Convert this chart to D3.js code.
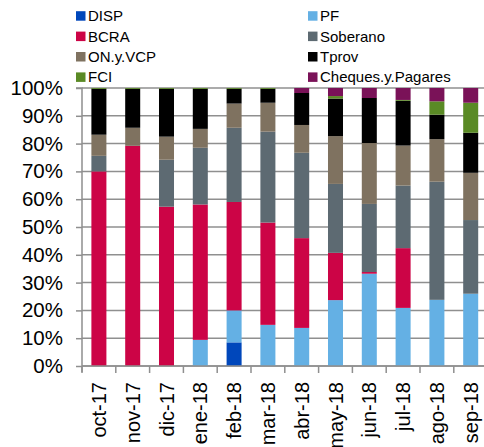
<!DOCTYPE html>
<html><head><meta charset="utf-8">
<script src="https://cdn.jsdelivr.net/npm/d3@7"></script>
<style>
html,body{margin:0;padding:0;background:#fff;}
svg{display:block;font-family:"Liberation Sans",Arial,sans-serif;}
</style></head>
<body><svg id="c" width="484" height="447"></svg>
<script>
const categories = ["oct-17","nov-17","dic-17","ene-18","feb-18","mar-18","abr-18","may-18","jun-18","jul-18","ago-18","sep-18"];
const seriesNames = ["DISP","PF","BCRA","Soberano","ON.y.VCP","Tprov","FCI","Cheques.y.Pagares"];
const seriesColors = ["#0047bb","#64b0e4","#cc0446","#5d6a72","#7f7260","#000000","#5a8a25","#7a1258"];
const DISP     = [0,   0,   0,   0,   8.5, 0,   0,   0,   0,   0,   0,   0];
const PF       = [0,   0,   0,   9.4, 11.5,14.8,13.7,23.7,33.2,20.9,23.8,26.0];
const BCRA     = [70.0,79.2,57.3,48.7,39.0,36.8,32.3,17.0,0.6, 21.5,0,   0];
const Soberano = [5.6, 0,   16.9,20.4,26.7,32.7,30.7,24.8,24.5,22.5,42.5,26.5];
const ONyVCP   = [7.6, 6.5, 8.3, 6.8, 8.7, 10.4,10.0,17.2,21.9,14.4,15.3,17.0];
const Tprov    = [16.5,14.0,17.2,14.4,5.3, 5.0, 11.5,13.5,16.2,16.1,8.8, 14.4];
const FCI      = [0.3, 0.3, 0.3, 0.3, 0.3, 0.3, 0,   0.9, 0,   0.3, 4.8, 10.8];
const Cheques  = [0,   0,   0,   0,   0,   0,   1.8, 2.9, 3.6, 4.3, 4.8, 5.3];
const yTickValues = [0,10,20,30,40,50,60,70,80,90,100];
const yTickLabels = ["0%","10%","20%","30%","40%","50%","60%","70%","80%","90%","100%"];

const seriesValues = [DISP,PF,BCRA,Soberano,ONyVCP,Tprov,FCI,Cheques];
const rows = categories.map((c,i)=>{const r={cat:c}; seriesNames.forEach((s,j)=>r[s]=seriesValues[j][i]); return r;});

const svg = d3.select("#c");
const L=82, R=487.6, T=88, B=366;
const x = d3.scaleBand().domain(categories).range([L,R]).paddingInner(0.556).paddingOuter(0.278);
const y = d3.scaleLinear().domain([0,100]).range([B,T]);
const color = d3.scaleOrdinal().domain(seriesNames).range(seriesColors);
const gridColor = "#8f8f8f";

// gridlines
svg.append("g").selectAll("line").data(yTickValues).join("line")
  .attr("x1",L).attr("x2",484).attr("y1",d=>y(d)).attr("y2",d=>y(d))
  .attr("stroke",gridColor).attr("stroke-width",1.5);

// bars
const stack = d3.stack().keys(seriesNames)(rows);
svg.append("g").selectAll("g").data(stack).join("g")
  .attr("fill",d=>color(d.key))
  .selectAll("rect").data(d=>d).join("rect")
  .attr("x",d=>x(d.data.cat)).attr("width",x.bandwidth())
  .attr("y",d=>y(d[1])).attr("height",d=>Math.max(0,y(d[0])-y(d[1])));

// y axis
const yAxis = d3.axisLeft(y).tickValues(yTickValues).tickFormat((d,i)=>yTickLabels[i]).tickSize(6).tickPadding(13);
const gy = svg.append("g").attr("transform",`translate(${L},0)`).call(yAxis);
gy.select(".domain").attr("stroke",gridColor).attr("stroke-width",1.5).attr("d",`M-6,${T}H0V${B+6}`);
gy.selectAll(".tick line").attr("stroke",gridColor).attr("stroke-width",1.5);
gy.selectAll(".tick text").attr("font-size",20.5).attr("fill","#000").attr("font-family","Liberation Sans, Arial, sans-serif");

// x axis
const xAxis = d3.axisBottom(x).tickSize(0).tickPadding(0);
const gx = svg.append("g").attr("transform",`translate(0,${B})`).call(xAxis);
gx.select(".domain").attr("stroke",gridColor).attr("stroke-width",1.5).attr("d",`M${L},0H484`);
gx.selectAll(".tick text").attr("font-size",20).attr("fill","#000")
  .attr("font-family","Liberation Sans, Arial, sans-serif")
  .attr("text-anchor","end").attr("transform","rotate(-90)")
  .attr("x",-16).attr("y",0).attr("dy","0.35em");
// boundary ticks
const bounds = categories.map((c,i)=>L + i*x.step()).concat([L+categories.length*x.step()]);
gx.append("g").selectAll("line").data(bounds).join("line")
  .attr("x1",d=>d).attr("x2",d=>d).attr("y1",0).attr("y2",7)
  .attr("stroke",gridColor).attr("stroke-width",1.5);

// legend
const leg = svg.append("g");
const legItems = seriesNames.map((s,i)=>({s, col:i%2, row:Math.floor(i/2)}));
const colX=[76,308], rowY=[15.7,36.1,56.5,76.9];
const li = leg.selectAll("g").data(legItems).join("g")
  .attr("transform",d=>`translate(${colX[d.col]},${rowY[d.row]})`);
li.append("rect").attr("x",0).attr("y",-4.5).attr("width",9.5).attr("height",9.5).attr("fill",d=>color(d.s));
li.append("text").attr("x",12).attr("y",0).attr("dy","0.36em").attr("font-size",15).attr("fill","#000").text(d=>d.s);
</script></body></html>
